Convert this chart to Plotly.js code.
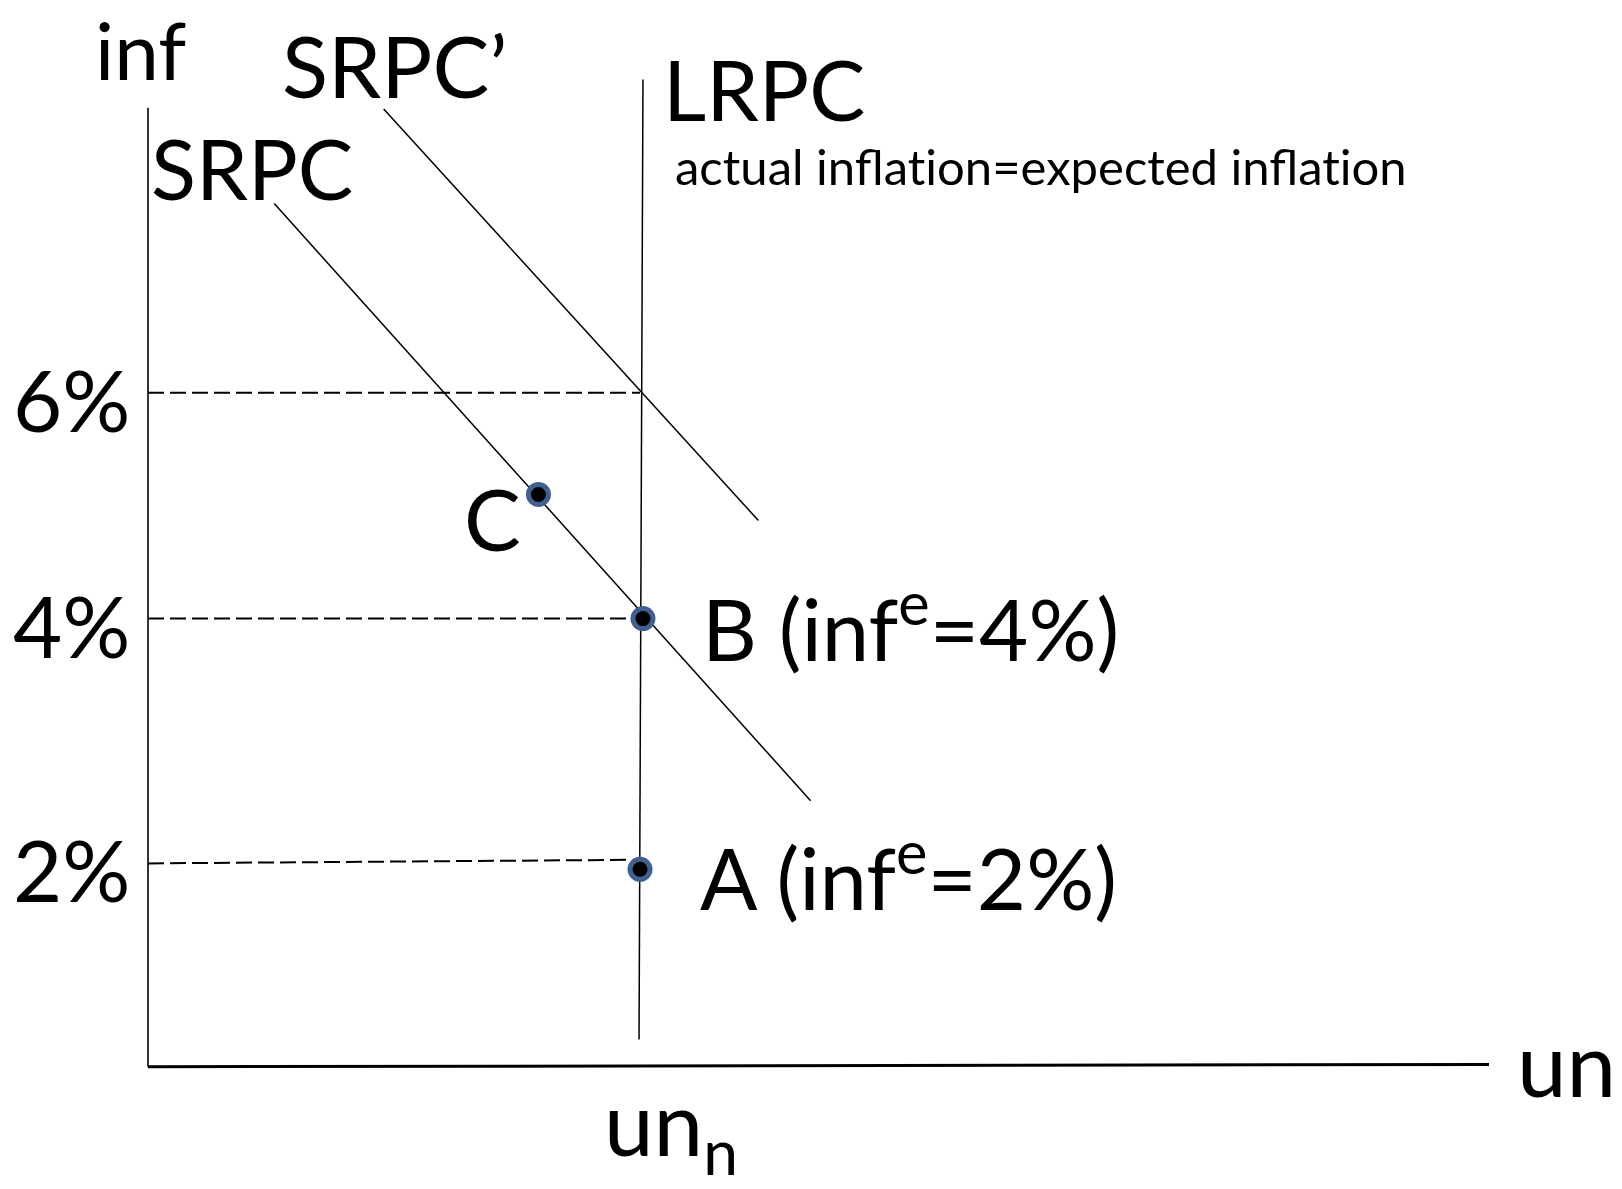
<!DOCTYPE html>
<html>
<head>
<meta charset="utf-8">
<script src="https://cdn.plot.ly/plotly-3.0.1.min.js"></script>
<style>
  html, body { margin: 0; padding: 0; background: #ffffff; }
  #chart { width: 1622px; height: 1189px; }
</style>
</head>
<body>
<div id="chart"></div>
<script>
// ---------------- data ----------------
// x = unemployment (arbitrary units, natural rate un_n ≈ 5), y = inflation (%)
const axisCornerX = [0, 0, 13.6];
const axisCornerY = [8.38, 0.27, 0.29];

const lrpcX = [5.02, 4.98];
const lrpcY = [8.62, 0.50];

const srpcX = [1.28, 6.72];
const srpcY = [7.57, 2.52];

const srpcPrimeX = [2.39, 6.19];
const srpcPrimeY = [8.37, 4.89];

const tickLabels = ['6%', '4%', '2%'];
const tickValues = [5.97, 4.06, 1.99];
const dashEndX = [4.99, 4.89, 4.89];
const dashEndY = [5.97, 4.06, 2.02];

const pointNames = ['C', 'B', 'A'];
const pointX = [3.96, 5.02, 4.99];
const pointY = [5.11, 4.06, 1.94];

const curveLabels = ['SRPC', 'SRPC’', 'LRPC'];
const pointLabels = ['C', 'B (inf<sup>e</sup>=4%)', 'A (inf<sup>e</sup>=2%)'];
const yAxisTitle = 'inf';
const xAxisTitle = 'un';
const naturalRateLabel = 'un<sub>n</sub>';
// zero-width non-joiners keep the font from fusing "ti" into a ligature
const lrpcNote = 'actual inflat\u200Cion=expected inflat\u200Cion';

// ---------------- layout helpers ----------------
const W = 1622, H = 1189;
const FONT = 'Lato, "Open Sans", "Noto Sans", sans-serif';
function label(text, leftPx, baselinePx, size) {
  return {
    text: text, showarrow: false,
    xref: 'paper', yref: 'paper',
    x: leftPx / W, xanchor: 'left',
    y: 1 - (baselinePx - 0.387 * size) / H, yanchor: 'middle',
    font: { family: FONT, size: size, color: '#000000' },
    borderpad: 0
  };
}

const traces = [];
// axes
traces.push({ x: axisCornerX.slice(0, 2), y: axisCornerY.slice(0, 2), mode: 'lines',
  line: { color: '#000', width: 1.6 }, hoverinfo: 'skip' });
traces.push({ x: axisCornerX.slice(1), y: axisCornerY.slice(1), mode: 'lines',
  line: { color: '#000', width: 3 }, hoverinfo: 'skip' });
// dashed guides
for (let i = 0; i < tickValues.length; i++) {
  traces.push({ x: [0, dashEndX[i]], y: [tickValues[i], dashEndY[i]], mode: 'lines',
    line: { color: '#000', width: 2, dash: '16px,6px' }, hoverinfo: 'skip' });
}
// curves
traces.push({ x: lrpcX, y: lrpcY, mode: 'lines', line: { color: '#000', width: 1.5 }, name: 'LRPC' });
traces.push({ x: srpcX, y: srpcY, mode: 'lines', line: { color: '#000', width: 1.5 }, name: 'SRPC' });
traces.push({ x: srpcPrimeX, y: srpcPrimeY, mode: 'lines', line: { color: '#000', width: 1.5 }, name: 'SRPC’' });
// points
traces.push({ x: pointX, y: pointY, text: pointNames, mode: 'markers',
  marker: { size: 20, color: '#000000', line: { color: '#3f6090', width: 5 } }, cliponaxis: false });

const annotations = [];
// tick labels on the inflation axis
for (let i = 0; i < tickLabels.length; i++) {
  annotations.push({ text: tickLabels[i], showarrow: false, xref: 'paper', yref: 'y',
    x: 12 / W, xanchor: 'left', y: tickValues[i], yanchor: 'middle', yshift: -6,
    font: { family: FONT, size: 85, color: '#000' }, borderpad: 0 });
}
// y-axis title pinned to the top edge
annotations.push({ text: yAxisTitle, showarrow: false, xref: 'paper', yref: 'paper',
  x: 94 / W, xanchor: 'left', y: 1, yanchor: 'top',
  font: { family: FONT, size: 80, color: '#000' }, borderpad: 0 });
annotations.push(label(curveLabels[1], 281, 98, 85));
annotations.push(label(curveLabels[0], 150, 200, 83));
annotations.push(label(curveLabels[2], 662, 121, 84));
annotations.push(label(lrpcNote, 674, 185, 49));
annotations.push(label(pointLabels[0], 463, 551, 85));
annotations.push(label(pointLabels[1], 701, 655, 85));
annotations.push(label(pointLabels[2], 699, 904, 85));
annotations.push(label(xAxisTitle, 1516, 1097, 89));
annotations.push(label(naturalRateLabel, 603, 1162, 89));

const layout = {
  width: W, height: H,
  margin: { l: 0, r: 0, t: 0, b: 0 },
  paper_bgcolor: '#ffffff', plot_bgcolor: '#ffffff',
  showlegend: false,
  xaxis: { range: [-1.501, 14.949], visible: false, fixedrange: true },
  yaxis: { range: [-0.7636, 9.2913], visible: false, fixedrange: true },
  annotations: annotations
};

Plotly.newPlot('chart', traces, layout, { displayModeBar: false, staticPlot: true });
</script>
</body>
</html>
